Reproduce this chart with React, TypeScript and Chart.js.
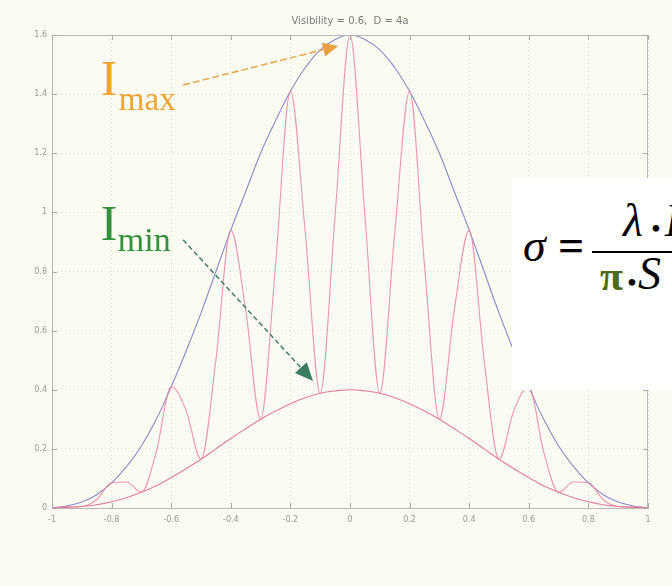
import React, { useEffect, useRef } from "react";
import { Chart, registerables } from "chart.js";

Chart.register(...registerables);

// ---- data ----
const xValues = [
  -1, -0.95, -0.9, -0.85, -0.8, -0.75, -0.7, -0.65, -0.6, -0.55, -0.5, -0.45, -0.4, -0.35, -0.3, -0.25, -0.2, -0.15, -0.1, -0.05,
  0, 0.05, 0.1, 0.15, 0.2, 0.25, 0.3, 0.35, 0.4, 0.45, 0.5, 0.55, 0.6, 0.65, 0.7, 0.75, 0.8, 0.85, 0.9, 0.95, 1,
];

const upperEnvelope = [
  0, 0.007, 0.02, 0.045, 0.085, 0.14, 0.21, 0.3, 0.41, 0.53, 0.66, 0.8, 0.94, 1.07, 1.2, 1.31, 1.41, 1.49, 1.55, 1.585,
  1.6, 1.585, 1.55, 1.49, 1.41, 1.31, 1.2, 1.07, 0.94, 0.8, 0.66, 0.53, 0.41, 0.3, 0.21, 0.14, 0.085, 0.045, 0.02, 0.007, 0,
];

const lowerEnvelope = [
  0, 0.002, 0.005, 0.011, 0.021, 0.035, 0.053, 0.075, 0.103, 0.133, 0.165, 0.2, 0.235, 0.268, 0.3, 0.328, 0.353, 0.373, 0.388, 0.396,
  0.4, 0.396, 0.388, 0.373, 0.353, 0.328, 0.3, 0.268, 0.235, 0.2, 0.165, 0.133, 0.103, 0.075, 0.053, 0.035, 0.021, 0.011, 0.005, 0.002, 0,
];

const fringePattern = [
  0, 0.004, 0.005, 0.028, 0.085, 0.088, 0.053, 0.19, 0.41, 0.33, 0.165, 0.5, 0.94, 0.67, 0.3, 0.82, 1.41, 0.93, 0.388, 0.99,
  1.6, 0.99, 0.388, 0.93, 1.41, 0.82, 0.3, 0.67, 0.94, 0.5, 0.165, 0.33, 0.41, 0.19, 0.053, 0.088, 0.085, 0.028, 0.005, 0.004, 0,
];

const xTicks = [-1, -0.8, -0.6, -0.4, -0.2, 0, 0.2, 0.4, 0.6, 0.8, 1];
const xTickLabels = ["-1", "-0.8", "-0.6", "-0.4", "-0.2", "0", "0.2", "0.4", "0.6", "0.8", "1"];
const yTicks = [0, 0.2, 0.4, 0.6, 0.8, 1, 1.2, 1.4, 1.6];
const yTickLabels = ["0", "0.2", "0.4", "0.6", "0.8", "1", "1.2", "1.4", "1.6"];

const chartTitle = "Visibility = 0.6,  D = 4a";

// annotation anchors in data units
const annotations = [
  {
    main: "I",
    sub: "max",
    color: "#f0a435",
    arrowColor: "#e9a040",
    textAt: { x: -0.836, y: 1.397 },
    subOffset: { dx: 18, dy: 15 },
    subSize: 33,
    tail: { x: -0.56, y: 1.431 },
    head: { x: -0.04, y: 1.563 },
    headLen: 15,
    headHalf: 7,
    dash: [7, 3],
  },
  {
    main: "I",
    sub: "min",
    color: "#33903f",
    arrowColor: "#3a7c5c",
    textAt: { x: -0.836, y: 0.907 },
    subOffset: { dx: 17, dy: 11 },
    subSize: 34,
    tail: { x: -0.56, y: 0.907 },
    head: { x: -0.124, y: 0.43 },
    headLen: 18,
    headHalf: 8,
    dash: [5, 3],
  },
];

const labelFor = (ticks: number[], labels: string[], v: number) => {
  const i = ticks.findIndex((t) => Math.abs(t - v) < 1e-9);
  return i >= 0 ? labels[i] : "";
};

const decorPlugin = {
  id: "decor",
  afterDraw(chart: any) {
    const { ctx, chartArea: a, scales } = chart;
    const xs = scales.x;
    const ys = scales.y;
    ctx.save();
    // frame top & right
    ctx.strokeStyle = "#b8b8b8";
    ctx.lineWidth = 1;
    ctx.setLineDash([]);
    ctx.beginPath();
    ctx.moveTo(a.left, a.top + 0.5);
    ctx.lineTo(a.right, a.top + 0.5);
    ctx.moveTo(a.right - 0.5, a.top);
    ctx.lineTo(a.right - 0.5, a.bottom);
    ctx.stroke();
    // inward tick marks
    ctx.strokeStyle = "#aaaaaa";
    ctx.beginPath();
    xTicks.forEach((v) => {
      const px = Math.round(xs.getPixelForValue(v)) + 0.5;
      ctx.moveTo(px, a.bottom);
      ctx.lineTo(px, a.bottom - 5);
      ctx.moveTo(px, a.top);
      ctx.lineTo(px, a.top + 5);
    });
    yTicks.forEach((v) => {
      const py = Math.round(ys.getPixelForValue(v)) + 0.5;
      ctx.moveTo(a.left, py);
      ctx.lineTo(a.left + 5, py);
      ctx.moveTo(a.right, py);
      ctx.lineTo(a.right - 5, py);
    });
    ctx.stroke();
    // title
    ctx.fillStyle = "#7a7a7a";
    ctx.font = '10px "DejaVu Sans"';
    ctx.textAlign = "center";
    ctx.textBaseline = "middle";
    ctx.fillText(chartTitle, (a.left + a.right) / 2, 21);
    // annotations
    annotations.forEach((an) => {
      const tx = xs.getPixelForValue(an.textAt.x);
      const ty = ys.getPixelForValue(an.textAt.y);
      ctx.fillStyle = an.color;
      ctx.textAlign = "left";
      ctx.textBaseline = "alphabetic";
      ctx.font = '50px "Liberation Serif"';
      ctx.fillText(an.main, tx, ty);
      ctx.font = an.subSize + 'px "Liberation Serif"';
      ctx.fillText(an.sub, tx + an.subOffset.dx, ty + an.subOffset.dy);
      const x1 = xs.getPixelForValue(an.tail.x);
      const y1 = ys.getPixelForValue(an.tail.y);
      const x2 = xs.getPixelForValue(an.head.x);
      const y2 = ys.getPixelForValue(an.head.y);
      const ang = Math.atan2(y2 - y1, x2 - x1);
      const bx = x2 - Math.cos(ang) * an.headLen;
      const by = y2 - Math.sin(ang) * an.headLen;
      ctx.strokeStyle = an.arrowColor;
      ctx.lineWidth = 1.4;
      ctx.setLineDash(an.dash);
      ctx.beginPath();
      ctx.moveTo(x1, y1);
      ctx.lineTo(bx, by);
      ctx.stroke();
      ctx.setLineDash([]);
      ctx.fillStyle = an.arrowColor;
      ctx.beginPath();
      ctx.moveTo(x2, y2);
      ctx.lineTo(bx + Math.sin(ang) * an.headHalf, by - Math.cos(ang) * an.headHalf);
      ctx.lineTo(bx - Math.sin(ang) * an.headHalf, by + Math.cos(ang) * an.headHalf);
      ctx.closePath();
      ctx.fill();
    });
    ctx.restore();
  },
};

export default function App() {
  const canvasRef = useRef<HTMLCanvasElement>(null);

  useEffect(() => {
    const canvas = canvasRef.current;
    if (!canvas) return;
    const mk = (arr: number[]) => xValues.map((x, i) => ({ x, y: arr[i] }));
    const gridColor = "rgba(175,175,175,0.35)";
    const chart = new Chart(canvas, {
      type: "line",
      data: {
        datasets: [
          {
            label: "fringes",
            data: mk(fringePattern),
            borderColor: "rgba(233,125,155,0.8)",
            borderWidth: 1.1,
            pointRadius: 0,
            cubicInterpolationMode: "monotone",
            fill: false,
          },
          {
            label: "lower",
            data: mk(lowerEnvelope),
            borderColor: "rgba(226,112,142,0.9)",
            borderWidth: 1.1,
            pointRadius: 0,
            tension: 0.4,
            fill: false,
          },
          {
            label: "upper",
            data: mk(upperEnvelope),
            borderColor: "rgba(125,125,200,0.9)",
            borderWidth: 1.1,
            pointRadius: 0,
            tension: 0.4,
            fill: false,
          },
        ],
      } as any,
      options: {
        animation: false,
        responsive: false,
        devicePixelRatio: 1,
        layout: { padding: { top: 35, right: 24, left: 0, bottom: 0 } },
        plugins: {
          legend: { display: false },
          tooltip: { enabled: false },
          title: { display: false },
        },
        scales: {
          x: {
            type: "linear",
            min: -1,
            max: 1,
            afterBuildTicks: (s: any) => {
              s.ticks = xTicks.map((v) => ({ value: v }));
            },
            afterFit: (s: any) => {
              s.height = 78;
            },
            ticks: {
              callback: (v: any) => labelFor(xTicks, xTickLabels, Number(v)),
              color: "#9a9a9a",
              font: { size: 8, family: "DejaVu Sans" },
              padding: 7,
              maxRotation: 0,
              autoSkip: false,
            },
            grid: { color: gridColor, drawTicks: false },
            border: { display: true, color: "#b8b8b8", dash: [1, 3] },
          },
          y: {
            type: "linear",
            min: 0,
            max: 1.6,
            afterBuildTicks: (s: any) => {
              s.ticks = yTicks.map((v) => ({ value: v }));
            },
            afterFit: (s: any) => {
              s.width = 52;
            },
            ticks: {
              callback: (v: any) => labelFor(yTicks, yTickLabels, Number(v)),
              color: "#9a9a9a",
              font: { size: 8, family: "DejaVu Sans" },
              padding: 5,
              autoSkip: false,
            },
            grid: { color: gridColor, drawTicks: false },
            border: { display: true, color: "#b8b8b8", dash: [1, 3] },
          },
        },
      } as any,
      plugins: [decorPlugin],
    });
    return () => chart.destroy();
  }, []);

  const serif = '"Liberation Serif", "DejaVu Serif", serif';
  const sym = (
    text: string,
    left: number,
    baseline: number,
    size: number,
    extra: React.CSSProperties = {}
  ) => (
    <span
      style={{
        position: "absolute",
        left,
        top: baseline - 0.8375 * size,
        fontSize: size,
        lineHeight: `${size}px`,
        fontFamily: serif,
        whiteSpace: "nowrap",
        color: "#000",
        ...extra,
      }}
    >
      {text}
    </span>
  );

  return (
    <div
      style={{
        position: "fixed",
        left: 0,
        top: 0,
        width: 672,
        height: 586,
        background: "#fbfbf2",
        overflow: "hidden",
      }}
    >
      <canvas ref={canvasRef} width={672} height={586} style={{ display: "block" }} />
      <div
        style={{
          position: "absolute",
          left: 512,
          top: 178,
          width: 160,
          height: 212,
          background: "#ffffff",
          overflow: "hidden",
        }}
      >
        {sym("σ", 11, 84, 46, { fontStyle: "italic" })}
        {sym("=", 46, 84, 46, { fontWeight: "bold" })}
        <div style={{ position: "absolute", left: 80, top: 73, width: 90, height: 2, background: "#000" }} />
        {sym("λ", 111, 59, 46, { fontStyle: "italic" })}
        {sym("•", 139, 60, 28)}
        {sym("L", 153, 59, 46, { fontStyle: "italic" })}
        {sym("π", 88, 112, 42, { fontWeight: "bold", color: "#4d6b1f" })}
        {sym("•", 115, 114, 28)}
        {sym("S", 126, 112, 46, { fontStyle: "italic" })}
      </div>
    </div>
  );
}
